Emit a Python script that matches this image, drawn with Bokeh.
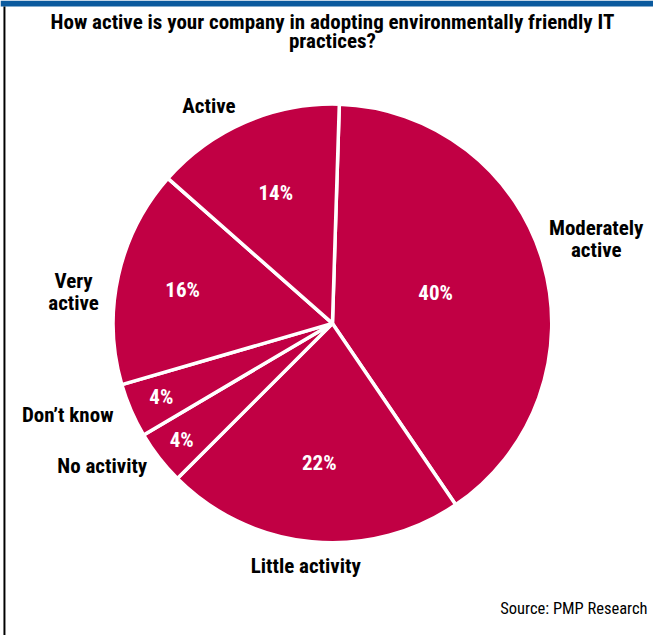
import math
from bokeh.plotting import figure
from bokeh.models import Range1d, ColumnDataSource
from bokeh.core.properties import value
from bokeh.embed import file_html
from bokeh.resources import INLINE

# ---------------- data ----------------
categories = ["Moderately active", "Little activity", "No activity", "Don't know", "Very active", "Active"]
percent = [40, 22, 4, 4, 16, 14]
pct_labels = ["40%", "22%", "4%", "4%", "16%", "14%"]
title_lines = ["How active is your company in adopting environmentally friendly IT", "practices?"]
source_note = "Source: PMP Research"

# ---------------- layout / style ----------------
W, H = 653, 635
SX, SY = W / 661, H / 643
FONT = "Roboto Condensed, DejaVu Sans Condensed, Liberation Sans Narrow, Arial Narrow, Liberation Sans"
PIE = "#c10044"
BLUE = "#0b5a9e"

def fx(rx):
    return rx * SX

def fy(ry):
    return H - ry * SY

cx, cy, R = fx(336), fy(327), 222 * SX
start_deg = 88.2  # first slice starts just right of 12 o'clock, goes clockwise
pct_r = [0.49, 0.64, 0.87, 0.85, 0.70, 0.65]

outer_lines = [
    ("Moderately", 603, 230), ("active", 603, 253),
    ("Little activity", 309, 573),
    ("No activity", 103, 471),
    ("Don\u2019t know", 68, 420),
    ("Very", 74, 284), ("active", 74, 306),
    ("Active", 211, 107),
]

p = figure(width=W, height=H, output_backend="svg", toolbar_location=None,
           x_range=Range1d(0, W), y_range=Range1d(0, H), min_border=0)
p.axis.visible = False
p.grid.visible = False
p.outline_line_color = None
p.background_fill_color = "white"
p.border_fill_color = "white"

p.quad(left=[0], right=[W], bottom=[H - 6], top=[H], fill_color=BLUE, line_color=None)
p.quad(left=[fx(3)], right=[fx(5)], bottom=[0], top=[H - 6], fill_color="black", line_color=None)

total = float(sum(percent))
starts, ends, mids = [], [], []
a = math.radians(start_deg)
for v in percent:
    span = v / total * 2 * math.pi
    ends.append(a)
    starts.append(a - span)
    mids.append(a - span / 2)
    a -= span

src = ColumnDataSource(dict(cat=categories, val=percent, s=starts, e=ends))
p.wedge(x=cx, y=cy, radius=R, start_angle="s", end_angle="e", source=src,
        fill_color=PIE, line_color="white", line_width=3.5)

lx = [cx + R * r * math.cos(m) for r, m in zip(pct_r, mids)]
ly = [cy + R * r * math.sin(m) for r, m in zip(pct_r, mids)]
p.text(x=lx, y=ly, text=pct_labels, text_color="white", text_font=value(FONT),
       text_font_style="bold", text_font_size="21px", text_align="center", text_baseline="middle")

p.text(x=[fx(o[1]) for o in outer_lines], y=[fy(o[2]) for o in outer_lines],
       text=[o[0] for o in outer_lines], text_color="black", text_font=value(FONT),
       text_font_style="bold", text_font_size="21px", text_align="center", text_baseline="middle")

p.text(x=[fx(336), fx(336)], y=[fy(22), fy(41)], text=title_lines, text_color="black",
       text_font=value(FONT), text_font_style="bold", text_font_size="21px",
       text_align="center", text_baseline="middle")

p.text(x=[fx(655)], y=[fy(616)], text=[source_note], text_color="black",
       text_font=value(FONT), text_font_size="16.5px", text_align="right", text_baseline="middle")

open("out.html", "w").write(file_html(p, INLINE))
